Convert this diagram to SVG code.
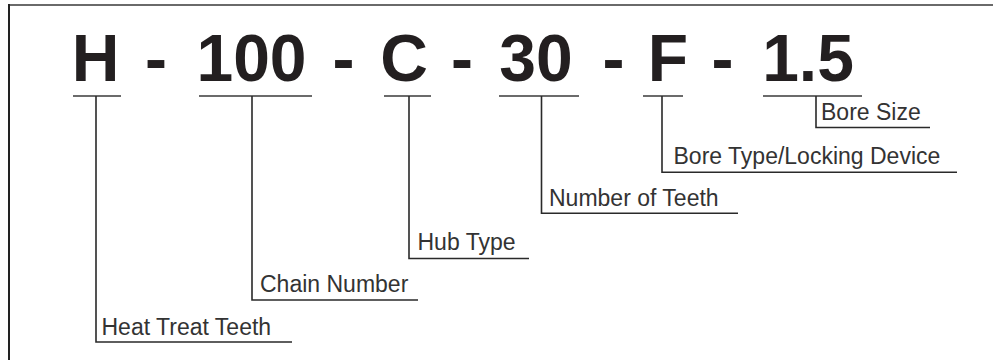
<svg xmlns="http://www.w3.org/2000/svg" width="993" height="360" viewBox="0 0 993 360">
  <style>
    .code { font-family: "Liberation Sans", Arial, sans-serif; font-weight: bold; font-size: 66px; fill: #231f20; text-anchor: middle; }
    .lbl { font-family: "Liberation Sans", Arial, sans-serif; font-size: 23px; fill: #333333; }
    .bar { stroke: #3a3a3a; stroke-width: 1.6; fill: none; }
    .conn { stroke: #2a2a2a; stroke-width: 1.6; fill: none; }
  </style>
  <rect width="993" height="360" fill="#ffffff"/>
  <g id="frame">
    <line x1="8" y1="5" x2="993" y2="5" stroke="#6a6a6a" stroke-width="2"/>
    <line x1="9" y1="4" x2="9" y2="360" stroke="#222222" stroke-width="2"/>
  </g>
  <g id="code-H">
    <text class="code" x="95.5" y="81">H</text>
    <line class="bar" x1="73" y1="96" x2="121" y2="96"/>
  </g>
  <g id="sep1"><text class="code" x="156" y="81">-</text></g>
  <g id="code-100">
    <text class="code" x="251.5" y="81">100</text>
    <line class="bar" x1="199" y1="96" x2="312" y2="96"/>
  </g>
  <g id="sep2"><text class="code" x="343.5" y="81">-</text></g>
  <g id="code-C">
    <text class="code" x="404" y="81">C</text>
    <line class="bar" x1="384" y1="96" x2="431" y2="96"/>
  </g>
  <g id="sep3"><text class="code" x="462" y="81">-</text></g>
  <g id="code-30">
    <text class="code" x="536" y="81">30</text>
    <line class="bar" x1="499" y1="96" x2="579" y2="96"/>
  </g>
  <g id="sep4"><text class="code" x="613.5" y="81">-</text></g>
  <g id="code-F">
    <text class="code" x="668" y="81">F</text>
    <line class="bar" x1="643" y1="96" x2="683" y2="96"/>
  </g>
  <g id="sep5"><text class="code" x="722.5" y="81">-</text></g>
  <g id="code-1-5">
    <text class="code" x="808" y="81">1.5</text>
    <line class="bar" x1="763" y1="96" x2="862" y2="96"/>
  </g>

  <g id="connectors">
    <path class="conn" d="M96 96 V342 H292"/>
    <path class="conn" d="M252 96 V300 H418"/>
    <path class="conn" d="M409 96 V258.5 H529"/>
    <path class="conn" d="M541.5 96 V213.3 H738"/>
    <path class="conn" d="M662 96 V172.3 H957"/>
    <path class="conn" d="M816 96 V127.5 H930"/>
  </g>

  <g id="label-heat-treat"><text class="lbl" x="101.5" y="335">Heat Treat Teeth</text></g>
  <g id="label-chain-number"><text class="lbl" x="260" y="292">Chain Number</text></g>
  <g id="label-hub-type"><text class="lbl" x="417.5" y="249.5">Hub Type</text></g>
  <g id="label-number-teeth"><text class="lbl" x="549" y="205.7">Number of Teeth</text></g>
  <g id="label-bore-type"><text class="lbl" x="673.5" y="163.5">Bore Type/Locking Device</text></g>
  <g id="label-bore-size"><text class="lbl" x="821" y="120">Bore Size</text></g>
</svg>
